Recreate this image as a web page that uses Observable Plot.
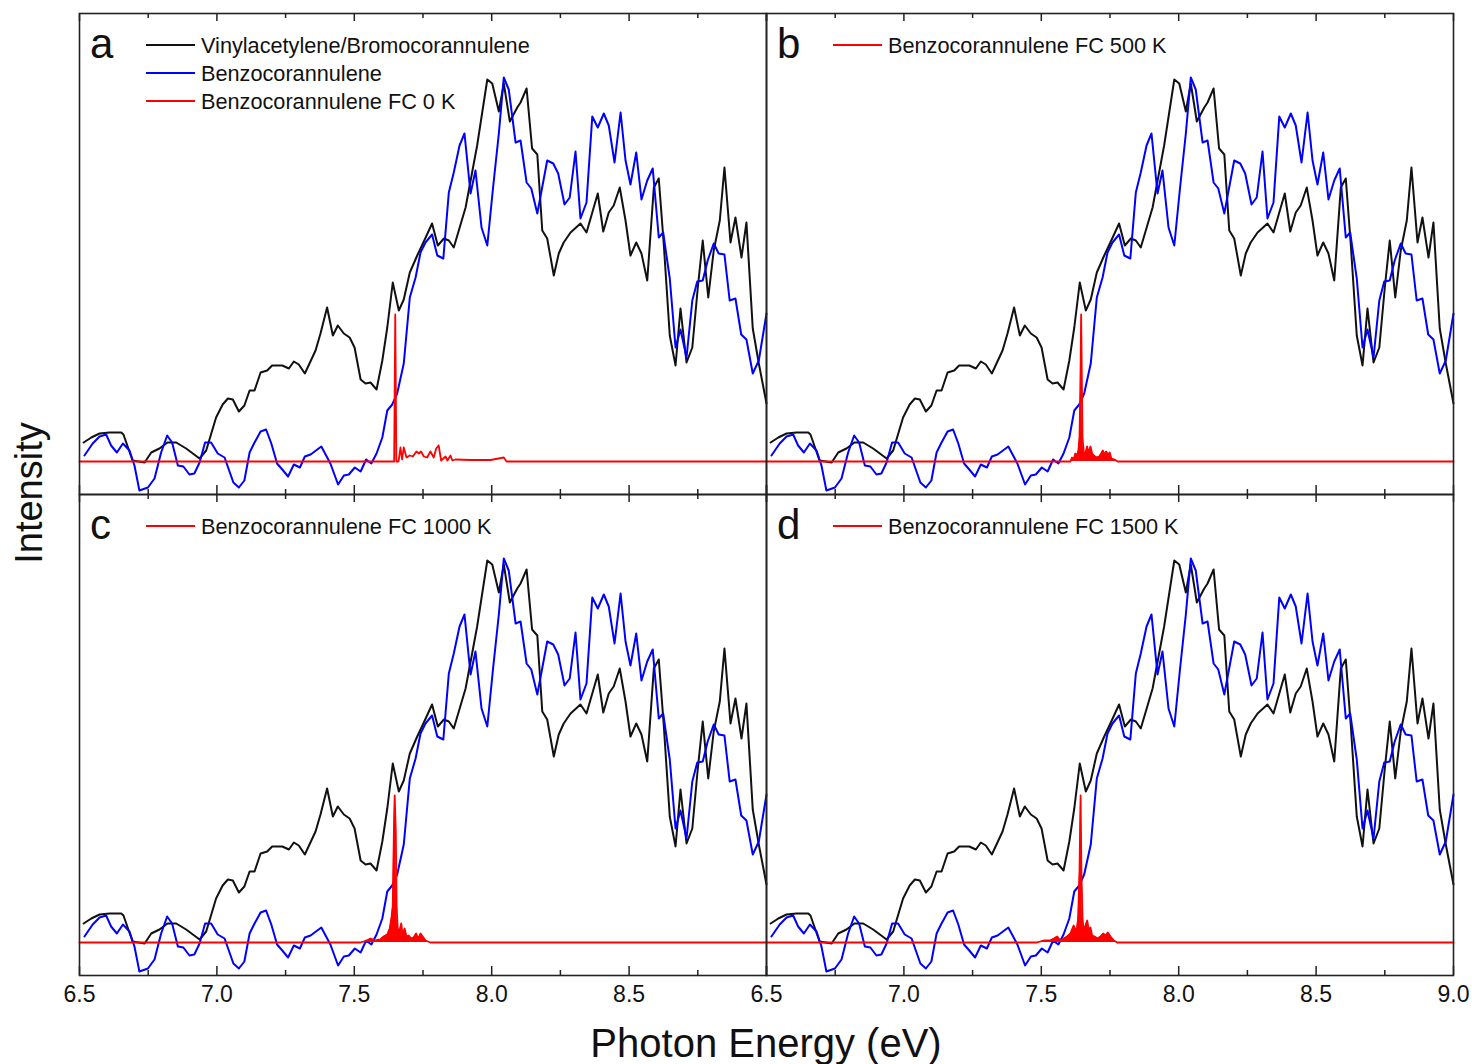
<!DOCTYPE html>
<html><head><meta charset="utf-8">
<script src="https://cdn.jsdelivr.net/npm/d3@7"></script>
<script src="https://cdn.jsdelivr.net/npm/@observablehq/plot@0.6"></script>
<style>
body{margin:0;background:#fff;}
#wrap{position:relative;width:1472px;height:1064px;overflow:hidden;font-family:"Liberation Sans",Arial,sans-serif;color:#111;}
#wrap svg{position:absolute;left:0;top:0;}
.lg{position:absolute;height:28px;line-height:28px;font-size:21.7px;white-space:nowrap;}
.sw{position:absolute;width:49px;height:2px;}
.letter{position:absolute;font-size:42px;line-height:42px;}
.xlab{position:absolute;font-size:40px;line-height:40px;white-space:nowrap;}
.ylab{position:absolute;font-size:38px;line-height:38px;white-space:nowrap;transform:translate(-50%,-50%) rotate(-90deg);}
</style></head><body><div id="wrap"></div>
<script>
// Vinylacetylene/Bromocorannulene (black)
const blackE = [6.515,6.543,6.573,6.609,6.652,6.660,6.693,6.737,6.761,6.791,
6.820,6.852,6.888,6.937,6.961,6.997,7.021,7.040,7.058,7.080,
7.100,7.119,7.137,7.159,7.183,7.201,7.238,7.262,7.280,7.298,
7.320,7.359,7.377,7.401,7.422,7.440,7.462,7.483,7.501,7.523,
7.541,7.559,7.581,7.602,7.620,7.640,7.662,7.680,7.702,7.729,
7.753,7.783,7.804,7.826,7.844,7.862,7.905,7.947,7.984,8.002,
8.026,8.044,8.066,8.093,8.105,8.127,8.147,8.166,8.184,8.202,
8.226,8.244,8.262,8.287,8.323,8.345,8.386,8.406,8.426,8.444,
8.466,8.487,8.505,8.526,8.545,8.566,8.590,8.608,8.626,8.648,
8.669,8.687,8.709,8.730,8.750,8.768,8.788,8.808,8.830,8.847,
8.869,8.887,8.909,8.927,8.950,8.972,9.000];
const blackI = [0.19,0.24,0.28,0.29,0.29,0.27,0.01,-0.01,0.09,0.13,
0.19,0.19,0.13,0.03,0.11,0.44,0.57,0.63,0.62,0.50,
0.56,0.71,0.71,0.89,0.91,0.96,0.96,0.93,1.00,0.97,
0.88,1.11,1.28,1.54,1.26,1.36,1.28,1.24,1.14,0.82,
0.78,0.79,0.72,1.01,1.34,1.79,1.51,1.62,1.89,2.06,
2.20,2.38,2.16,2.23,2.21,2.14,2.54,3.16,3.82,3.78,
3.50,3.78,3.40,3.54,3.59,3.73,3.13,3.07,2.31,2.23,
1.86,2.08,2.19,2.29,2.38,2.29,2.68,2.30,2.49,2.56,
2.74,2.41,2.06,2.19,2.08,1.81,2.74,2.83,2.18,1.26,
0.96,1.53,0.99,1.14,1.74,2.21,1.64,2.11,2.41,2.94,
2.19,2.44,2.04,2.39,1.33,0.98,0.58];

// Benzocorannulene (blue)
const blueE = [6.518,6.548,6.573,6.597,6.615,6.636,6.658,6.682,6.700,6.718,
6.749,6.773,6.797,6.819,6.837,6.858,6.878,6.900,6.918,6.937,
6.957,6.979,7.003,7.028,7.060,7.080,7.100,7.119,7.137,7.159,
7.179,7.198,7.219,7.238,7.259,7.280,7.302,7.320,7.341,7.380,
7.413,7.441,7.462,7.480,7.502,7.523,7.543,7.562,7.581,7.602,
7.620,7.638,7.656,7.680,7.702,7.723,7.741,7.759,7.783,7.802,
7.824,7.844,7.862,7.883,7.901,7.923,7.941,7.963,7.984,8.005,
8.026,8.044,8.062,8.087,8.105,8.127,8.144,8.166,8.202,8.224,
8.242,8.265,8.284,8.305,8.323,8.345,8.366,8.386,8.408,8.426,
8.447,8.469,8.487,8.505,8.526,8.545,8.566,8.586,8.608,8.624,
8.648,8.669,8.687,8.709,8.730,8.748,8.768,8.786,8.808,8.826,
8.847,8.866,8.887,8.908,8.927,8.950,8.972,9.000];
const blueI = [0.06,0.18,0.25,0.27,0.16,0.09,0.18,0.11,-0.04,-0.29,
-0.26,-0.17,0.09,0.26,0.19,-0.04,-0.05,-0.13,-0.12,-0.01,
0.19,0.19,0.08,0.04,-0.21,-0.26,-0.19,0.09,0.19,0.30,
0.32,0.18,-0.02,-0.08,-0.15,-0.03,-0.06,0.05,0.07,0.15,
-0.02,-0.23,-0.14,-0.13,-0.06,-0.10,0.02,-0.02,0.08,0.24,
0.51,0.57,0.68,0.98,1.64,1.84,2.09,2.19,2.27,2.06,
2.03,2.69,2.89,3.16,3.28,2.68,2.91,2.34,2.16,2.74,
3.28,3.84,3.72,3.19,3.21,2.79,2.73,2.48,3.01,2.98,
2.88,2.57,2.64,3.10,2.43,2.59,3.45,3.34,3.48,3.36,
2.99,3.49,3.01,2.77,3.09,2.62,2.81,2.93,2.24,2.29,
1.83,1.14,1.32,1.04,1.61,1.80,1.81,2.01,2.18,2.08,
2.07,1.61,1.63,1.27,1.22,0.88,1.01,1.48];

// Benzocorannulene FC spectra (red)
const fc0E = [6.5,7.645,7.649,7.653,7.661,7.668,7.674,7.680,7.690,7.702,7.713,7.726,7.735,7.743,7.753,7.765,7.777,7.789,7.798,7.807,7.816,7.832,7.839,7.850,7.857,7.868,7.923,7.996,8.044,8.054,9.0];
const fc0I = [0,0,1.47,0,0,0.14,0.02,0.14,0.04,0.06,0.05,0.10,0.08,0.10,0.05,0.04,0.10,0.04,0.13,0.16,0.01,0.05,0.01,0.06,0.01,0.02,0.015,0.015,0.04,0,0];
const fc500E = [6.5,7.606,7.612,7.618,7.624,7.630,7.635,7.639,7.642,7.645,7.648,7.650,7.655,7.661,7.667,7.672,7.679,7.685,7.691,7.701,7.711,7.718,7.724,7.730,7.736,7.743,7.749,7.755,7.766,7.778,9.0];
const fc500I = [0,0,0.04,0.02,0.08,0.06,0.11,0.24,0.71,1.47,0.71,0.24,0.08,0.09,0.15,0.08,0.15,0.08,0.06,0.04,0.05,0.08,0.11,0.07,0.10,0.07,0.09,0.03,0.02,0,0];
const fc1000E = [6.5,7.523,7.547,7.559,7.577,7.595,7.607,7.620,7.629,7.635,7.640,7.644,7.647,7.651,7.654,7.658,7.664,7.671,7.676,7.683,7.690,7.698,7.707,7.716,7.725,7.733,7.741,7.749,7.759,7.777,9.0];
const fc1000I = [0,0,0.02,0.04,0.02,0.03,0.06,0.08,0.14,0.24,0.37,1.11,1.47,1.11,0.37,0.14,0.11,0.19,0.07,0.14,0.06,0.07,0.04,0.05,0.09,0.04,0.09,0.06,0.02,0,0];
const fc1500E = [6.5,7.485,7.509,7.533,7.546,7.558,7.570,7.582,7.594,7.606,7.618,7.628,7.634,7.639,7.643,7.646,7.650,7.655,7.661,7.667,7.673,7.679,7.685,7.694,7.704,7.716,7.725,7.734,7.742,7.752,7.764,7.776,9.0];
const fc1500I = [0,0,0.02,0.02,0.04,0.06,0.02,0.04,0.06,0.09,0.17,0.11,0.24,0.71,1.47,0.71,0.24,0.11,0.17,0.22,0.12,0.15,0.07,0.06,0.04,0.06,0.09,0.07,0.10,0.06,0.02,0,0];

// panels, labels and ticks
const panelLetters = ["a","b","c","d"];
const panelCols = ["L","R","L","R"];
const panelRows = ["T","T","B","B"];
const fcLabels = ["Benzocorannulene FC 0 K","Benzocorannulene FC 500 K","Benzocorannulene FC 1000 K","Benzocorannulene FC 1500 K"];
const seriesLabels = ["Vinylacetylene/Bromocorannulene","Benzocorannulene"];
const majorTicks = [6.5,7.0,7.5,8.0,8.5,9.0];
const minorTicks = [6.75,7.25,7.75,8.25,8.75];
const tickLabelsLeft = [6.5,7.0,7.5,8.0,8.5];
const tickLabelsRight = [6.5,7.0,7.5,8.0,8.5,9.0];
const xTitle = "Photon Energy (eV)";
const yTitle = "Intensity";

const fcE = [fc0E, fc500E, fc1000E, fc1500E];
const fcI = [fc0I, fc500I, fc1000I, fc1500I];

const blackRows = [], blueRows = [], redRows = [];
panelLetters.forEach((p, k) => {
  const col = panelCols[k], row = panelRows[k];
  blackE.forEach((e, i) => blackRows.push({e, v: blackI[i], col, row}));
  blueE.forEach((e, i) => blueRows.push({e, v: blueI[i], col, row}));
  fcE[k].forEach((e, i) => redRows.push({e, v: fcI[k][i], col, row, filled: k > 0}));
});
const labelRows = [
  ...tickLabelsLeft.map(t => ({t, col: "L", row: "B"})),
  ...tickLabelsRight.map(t => ({t, col: "R", row: "B"}))
];

const W = 1472, H = 1064, mL = 79, mR = 19, mT = 13, mB = 89;
const facetW = (W - mL - mR) / 2, facetH = (H - mT - mB) / 2;
const axisColor = "#222";

const chart = Plot.plot({
  width: W, height: H,
  marginLeft: mL, marginRight: mR, marginTop: mT, marginBottom: mB,
  x: {domain: [6.5, 9.0], axis: null},
  y: {domain: [-0.33, 4.48], axis: null},
  fx: {domain: ["L","R"], padding: 0, axis: null},
  fy: {domain: ["T","B"], padding: 0, axis: null},
  style: {background: "white", overflow: "visible"},
  marks: [
    Plot.line(blackRows, {x: "e", y: "v", fx: "col", fy: "row", stroke: "#111", strokeWidth: 2}),
    Plot.line(blueRows, {x: "e", y: "v", fx: "col", fy: "row", stroke: "#0000ff", strokeWidth: 2}),
    Plot.areaY(redRows.filter(d => d.filled), {x: "e", y: "v", fx: "col", fy: "row", fill: "#ff0000"}),
    Plot.line(redRows, {x: "e", y: "v", fx: "col", fy: "row", stroke: "#ff0000", strokeWidth: 1.8}),
    Plot.tickX(majorTicks, {x: d => d, insetTop: facetH - 9, stroke: axisColor, strokeWidth: 1.5}),
    Plot.tickX(minorTicks, {x: d => d, insetTop: facetH - 5, stroke: axisColor, strokeWidth: 1.5}),
    Plot.tickX(majorTicks, {x: d => d, insetBottom: facetH - 8, stroke: axisColor, strokeWidth: 1.5}),
    Plot.tickX(minorTicks, {x: d => d, insetBottom: facetH - 5, stroke: axisColor, strokeWidth: 1.5}),
    Plot.text(labelRows, {x: "t", text: d => d.t.toFixed(1), fx: "col", fy: "row", frameAnchor: "bottom", dy: 26,
      fontSize: 23, fontFamily: "'Liberation Sans Narrow','Arial Narrow','Liberation Sans',Arial,sans-serif", fill: "#111"}),
    Plot.frame({stroke: axisColor, strokeWidth: 1.6})
  ]
});

const wrap = document.getElementById("wrap");
wrap.appendChild(chart);

function addDiv(cls, text, left, top, extra) {
  const d = document.createElement("div");
  d.className = cls;
  if (text) d.textContent = text;
  d.style.left = left + "px";
  d.style.top = top + "px";
  if (extra) Object.assign(d.style, extra);
  wrap.appendChild(d);
}

panelLetters.forEach((p, k) => {
  const px = mL + (panelCols[k] === "L" ? 0 : facetW);
  const py = mT + (panelRows[k] === "T" ? 0 : facetH);
  addDiv("letter", p, px + 11, py + 10);
  const items = k === 0
    ? [[seriesLabels[0], "#111"], [seriesLabels[1], "#0000ff"], [fcLabels[0], "#ff0000"]]
    : [[fcLabels[k], "#ff0000"]];
  items.forEach(([label, color], j) => {
    const ly = py + 32 + j * 28;
    addDiv("sw", "", px + 67, ly - 1, {background: color});
    addDiv("lg", label, px + 122, ly - 13);
  });
});
addDiv("xlab", xTitle, 766, 1023, {transform: "translateX(-50%)"});
addDiv("ylab", yTitle, 29, 493);
</script></body></html>
